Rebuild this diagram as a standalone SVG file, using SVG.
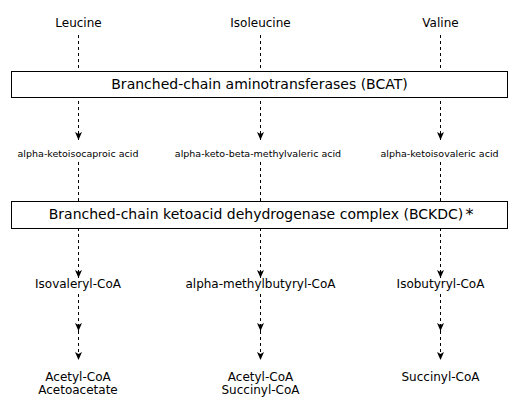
<svg xmlns="http://www.w3.org/2000/svg" width="518" height="414" viewBox="0 0 518 414">
<style>
text{font-family:"DejaVu Sans",Verdana,sans-serif;fill:#000;text-anchor:middle}
.t{font-size:12px}
.s{font-size:9.5px}
.b{font-size:14px}
.c{fill:none;stroke:#000;stroke-width:1;stroke-dasharray:3 3;marker-end:url(#ah)}
.box{fill:#fff;stroke:#000;stroke-width:1}
</style>
<defs>
<marker id="ah" viewBox="0 0 8 8" refX="8" refY="4" markerWidth="8" markerHeight="8" markerUnits="userSpaceOnUse" orient="auto">
<path d="M0,0.5 L8,4 L0,7.5 L2,4 Z" fill="#000"/>
</marker>
</defs>
<rect width="518" height="414" fill="#fff"/>
<g id="connectors">
<path class="c" d="M78.5,35 V140"/>
<path class="c" d="M260.5,35 V140"/>
<path class="c" d="M440.5,35 V140"/>
<path class="c" d="M78.5,162 V278"/>
<path class="c" d="M260.5,162 V278"/>
<path class="c" d="M440.5,162 V278"/>
<path class="c" d="M78.5,294 V331"/>
<path class="c" d="M260.5,294 V331"/>
<path class="c" d="M440.5,294 V331"/>
<path class="c" d="M78.5,331 V360"/>
<path class="c" d="M260.5,331 V360"/>
<path class="c" d="M440.5,331 V360"/>
</g>
<g id="leucine"><text class="t" x="78.5" y="26.5">Leucine</text></g>
<g id="isoleucine"><text class="t" x="260.5" y="26.5">Isoleucine</text></g>
<g id="valine"><text class="t" x="440.5" y="26.5">Valine</text></g>
<g id="bcat">
<rect class="box" x="11.5" y="71.5" width="496" height="26"/>
<text class="b" x="259.5" y="89">Branched-chain aminotransferases (BCAT)</text>
</g>
<g id="kic"><text class="s" x="78" y="157">alpha-ketoisocaproic acid</text></g>
<g id="kmv"><text class="s" x="258" y="157">alpha-keto-beta-methylvaleric acid</text></g>
<g id="kiv"><text class="s" x="439.5" y="157">alpha-ketoisovaleric acid</text></g>
<g id="bckdc">
<rect class="box" x="11.5" y="201.5" width="496" height="27"/>
<text class="b" x="256" y="219">Branched-chain ketoacid dehydrogenase complex (BCKDC)</text>
<text x="469.5" y="220" style="font-size:16px">*</text>
</g>
<g id="isovaleryl"><text class="t" x="78" y="288">Isovaleryl-CoA</text></g>
<g id="amb"><text class="t" x="260.5" y="288">alpha-methylbutyryl-CoA</text></g>
<g id="isobutyryl"><text class="t" x="440.5" y="288">Isobutyryl-CoA</text></g>
<g id="prod-leu"><text class="t" x="78" y="380.5">Acetyl-CoA</text><text class="t" x="78" y="393.5">Acetoacetate</text></g>
<g id="prod-ile"><text class="t" x="260.5" y="380.5">Acetyl-CoA</text><text class="t" x="260.5" y="393.5">Succinyl-CoA</text></g>
<g id="prod-val"><text class="t" x="440.5" y="380.5">Succinyl-CoA</text></g>
</svg>
